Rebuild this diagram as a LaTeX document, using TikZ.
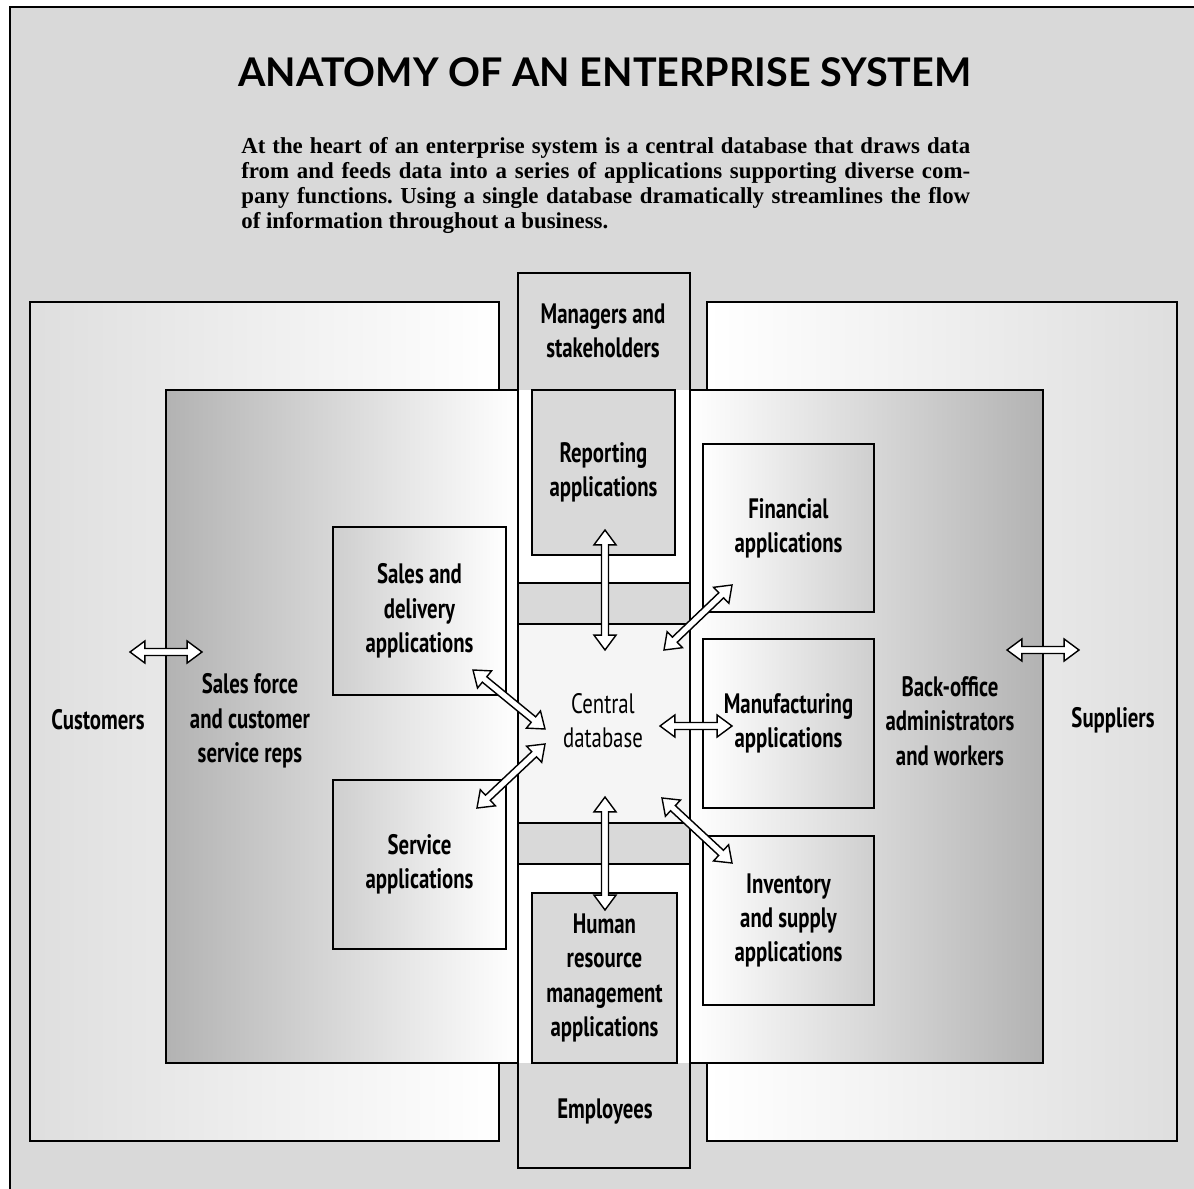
\documentclass[tikz,border=0pt]{standalone}
\usepackage{fontspec}
\usepackage{tikz}
\usetikzlibrary{calc,fit}

\setmainfont{Liberation Serif}
\newfontfamily\condfont[FakeStretch=0.74]{PT Sans}
\newfontfamily\titlefont{Lato}
\frenchspacing

\definecolor{paper}{gray}{0.85}
\definecolor{shade}{gray}{0.70}
\definecolor{appshade}{gray}{0.81}

\begin{document}
\begin{tikzpicture}[x=0.02cm,y=-0.02cm]
    \tikzstyle{box}=[inner sep=0pt,draw,line width=1.2pt]
    \tikzstyle{lbl}=[font=\condfont\bfseries\fontsize{16}{19.5}\selectfont,align=center]

    \tikzstyle{outerL}=[box,left color=paper!85!white,right color=white]  % customers side
    \tikzstyle{outerR}=[box,left color=white,right color=paper!85!white]  % suppliers side
    \tikzstyle{innerL}=[box,left color=shade,right color=white]            % front office
    \tikzstyle{innerR}=[box,left color=white,right color=shade]            % back office
    \tikzstyle{appL}=[box,left color=appshade,right color=white]
    \tikzstyle{appR}=[box,left color=white,right color=appshade]
    \tikzstyle{app}=[box,fill=paper]

    % hollow two-headed arrow between two coordinates
    \tikzstyle{flow}=[draw,fill=white,line width=0.8pt,line join=miter,
        to path={-- ($(\tikztostart)!8.5pt!(\tikztotarget)!6.3pt!90:(\tikztotarget)$)
                 -- ($(\tikztostart)!8.5pt!(\tikztotarget)!2pt!90:(\tikztotarget)$)
                 -- ($(\tikztotarget)!8.5pt!(\tikztostart)!2pt!90:(\tikztotarget)$)
                 -- ($(\tikztotarget)!8.5pt!(\tikztostart)!6.3pt!90:(\tikztotarget)$)
                 -- (\tikztotarget)
                 -- ($(\tikztotarget)!8.5pt!(\tikztostart)!6.3pt!-90:(\tikztotarget)$)
                 -- ($(\tikztotarget)!8.5pt!(\tikztostart)!2pt!-90:(\tikztotarget)$)
                 -- ($(\tikztostart)!8.5pt!(\tikztotarget)!2pt!-90:(\tikztotarget)$)
                 -- ($(\tikztostart)!8.5pt!(\tikztotarget)!6.3pt!-90:(\tikztotarget)$)
                 -- cycle}]

    \useasboundingbox (0,0) rectangle (1194,1189);
    \fill[paper] (10,7) rectangle (1194,1189);
    \draw[line width=1.2pt] (10,1189) -- (10,7) -- (1194,7);

    \node[font=\titlefont\bfseries\fontsize{22.5}{27}\selectfont] (title) at (605,72)
        {ANATOMY OF AN ENTERPRISE SYSTEM};
    \node[anchor=north west,text width=14.58cm,align=justify,inner sep=0pt,
          font=\bfseries\fontsize{13}{14.3}\selectfont] (intro) at (241,137)
        {At the heart of an enterprise system is a central database that draws data\linebreak
         from and feeds data into a series of applications supporting diverse com-\linebreak
         pany functions. Using a single database dramatically streamlines the flow\linebreak
         of information throughout a business.};

    % people around the system
    \node[outerL,fit={(30,302) (499,1141)}] (cust) {};
    \node[outerR,fit={(707,302) (1177,1141)}] (supp) {};
    \node[innerL,fit={(166,390) (518,1063)}] (front) {};
    \node[innerR,fit={(690,390) (1043,1063)}] (back) {};

    % central column
    \node[box,fill=paper,fit={(518,273) (690,1168)}] (column) {};
    \fill[white] (519,390) rectangle (689,1063);
    \node[box,fill=paper,fit={(518,583) (690,624)}] (band1) {};
    \node[box,fill=paper,fit={(518,823) (690,864)}] (band2) {};
    \fill[white!96!black] (519,625) rectangle (689,822);

    % applications
    \node[app,fit={(532,390) (675,555)}] (rep) {};
    \node[app,fit={(532,893) (677,1063)}] (hr) {};
    \node[appL,fit={(333,527) (506,695)}] (sales) {};
    \node[appL,fit={(333,780) (506,949)}] (serv) {};
    \node[appR,fit={(703,444) (874,612)}] (fin) {};
    \node[appR,fit={(703,639) (874,808)}] (manu) {};
    \node[appR,fit={(703,836) (874,1005)}] (inv) {};

    \node[lbl] (rep-t) at (rep) {Reporting\\applications};
    \node[lbl] (hr-t) at (hr) {Human\\resource\\management\\applications};
    \node[lbl] (sales-t) at (sales) {Sales and\\delivery\\applications};
    \node[lbl] (serv-t) at (serv) {Service\\applications};
    \node[lbl] (fin-t) at (fin) {Financial\\applications};
    \node[lbl] (manu-t) at (manu) {Manufacturing\\applications};
    \node[lbl] (inv-t) at (inv) {Inventory\\and supply\\applications};

    \node[lbl] (customers) at (98,720) {Customers};
    \node[lbl] (reps) at (250,721) {Sales force\\and customer\\service reps};
    \node[lbl] (office) at (950,721) {Back-office\\administrators\\and workers};
    \node[lbl] (suppliers) at (1113,720) {Suppliers};
    \node[lbl] (managers) at (603,331) {Managers and\\stakeholders};
    \node[lbl] (employees) at (605,1112) {Employees};
    \node[font=\condfont\fontsize{16}{19.5}\selectfont,align=center] (db) at (603,721)
        {Central\\database};

    % arrow ends
    \coordinate (cu1) at (130,652);  \coordinate (cu2) at (202,652);
    \coordinate (su1) at (1007,650); \coordinate (su2) at (1079,650);
    \coordinate (re1) at (605,530);  \coordinate (re2) at (605,650);
    \coordinate (hr1) at (605,797);  \coordinate (hr2) at (605,910);
    \coordinate (fi1) at (732,585);  \coordinate (fi2) at (664,650);
    \coordinate (ma1) at (660,726);  \coordinate (ma2) at (732,726);
    \coordinate (in1) at (662,798);  \coordinate (in2) at (732,863);
    \coordinate (sa1) at (473,670);  \coordinate (sa2) at (545,729);
    \coordinate (se1) at (545,744);  \coordinate (se2) at (477,808);

    \path (cu1) edge[flow] (cu2);
    \path (su1) edge[flow] (su2);
    \path (re1) edge[flow] (re2);
    \path (hr1) edge[flow] (hr2);
    \path (fi1) edge[flow] (fi2);
    \path (ma1) edge[flow] (ma2);
    \path (in1) edge[flow] (in2);
    \path (sa1) edge[flow] (sa2);
    \path (se1) edge[flow] (se2);
\end{tikzpicture}
\end{document}
